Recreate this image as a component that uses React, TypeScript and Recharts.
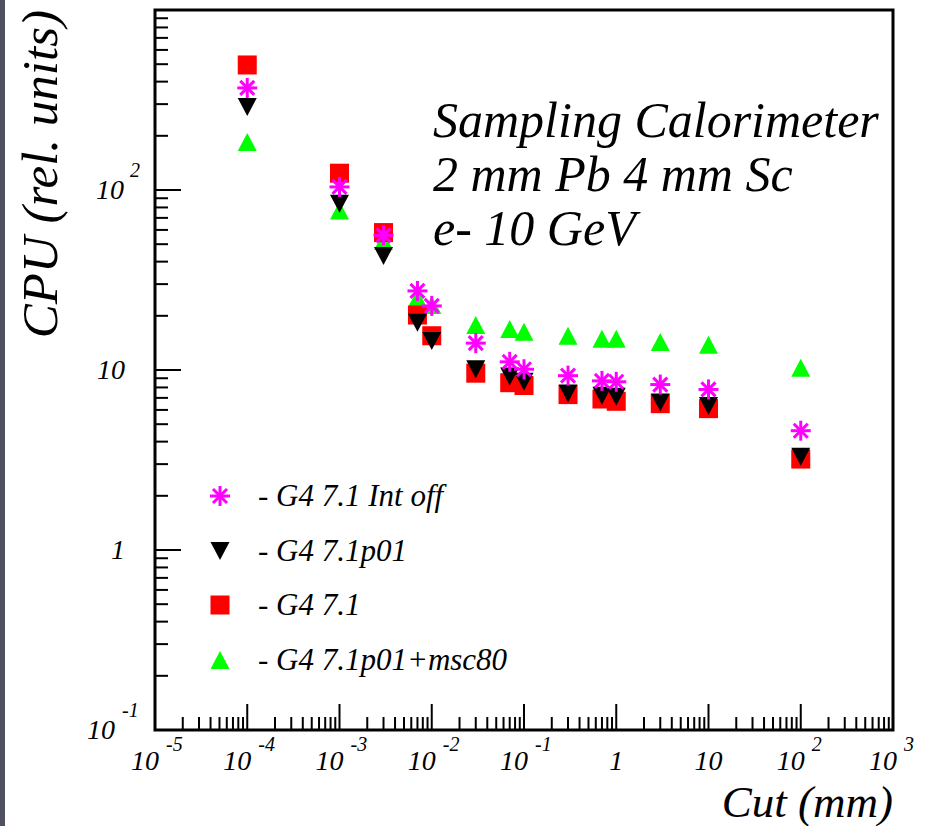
import React from "react";
import {
  ScatterChart,
  Scatter,
  XAxis,
  YAxis,
  Legend,
  ReferenceArea,
  Customized,
} from "recharts";

// cut values (mm) shared by all four series
const cutValues = [1e-4, 1e-3, 3e-3, 7e-3, 1e-2, 3e-2, 7e-2, 0.1, 0.3, 0.7, 1, 3, 10, 100];

// CPU (rel. units)
const cpuIntOff = [369, 104, 56, 27.5, 22.7, 14.1, 11.1, 10.1, 9.3, 8.7, 8.6, 8.3, 7.8, 4.6];
const cpuP01 = [289, 84, 43, 18.3, 14.5, 10.1, 9.2, 8.6, 7.4, 7.2, 7.1, 6.6, 6.3, 3.3];
const cpu71 = [495, 124, 58, 20.2, 15.5, 9.6, 8.5, 8.2, 7.3, 6.9, 6.7, 6.5, 6.1, 3.2];
const cpuMsc80 = [185, 77, 52, 25, 23, 17.8, 16.9, 16.3, 15.5, 14.9, 14.9, 14.3, 13.8, 10.3];

const xMajorTicks = [1e-5, 1e-4, 1e-3, 1e-2, 1e-1, 1, 10, 100, 1000];
const yMajorTicks = [0.1, 1, 10, 100, 1000];
const yLabelled = [0.1, 1, 10, 100];

const annotation = ["Sampling Calorimeter", "2 mm Pb 4 mm Sc", "e- 10 GeV"];

const FONT = "'Liberation Serif', 'Times New Roman', serif";
const W = 939;
const H = 826;
const PLOT_LEFT = 155;
const PLOT_TOP = 10;
const PLOT_RIGHT = 893;
const PLOT_BOTTOM = 730;
const X_LABEL_BASE = 770;

const withMinors = (majors: number[]) => {
  const out: number[] = [];
  majors.forEach((m, i) => {
    out.push(m);
    if (i < majors.length - 1) {
      for (let k = 2; k <= 9; k++) out.push(Number((m * k).toPrecision(6)));
    }
  });
  return out;
};

const xTicks = withMinors(xMajorTicks);
const yTicks = withMinors(yMajorTicks);

const isMajor = (v: number) => {
  const l = Math.log10(v);
  return Math.abs(l - Math.round(l)) < 1e-6;
};

const toPoints = (ys: number[]) => cutValues.map((x, i) => ({ x, y: ys[i] }));

const Asterisk = ({ cx, cy, color }: any) => {
  const r = 10;
  const d = 7;
  return (
    <g stroke={color} strokeWidth={3}>
      <line x1={cx} y1={cy - r} x2={cx} y2={cy + r} />
      <line x1={cx - r} y1={cy} x2={cx + r} y2={cy} />
      <line x1={cx - d} y1={cy - d} x2={cx + d} y2={cy + d} />
      <line x1={cx - d} y1={cy + d} x2={cx + d} y2={cy - d} />
    </g>
  );
};

const Square = ({ cx, cy, color }: any) => (
  <rect x={cx - 9.5} y={cy - 9.5} width={19} height={19} fill={color} />
);

const TriDown = ({ cx, cy, color }: any) => (
  <polygon
    points={`${cx - 9.5},${cy - 9} ${cx + 9.5},${cy - 9} ${cx},${cy + 9}`}
    fill={color}
  />
);

const TriUp = ({ cx, cy, color }: any) => (
  <polygon
    points={`${cx - 9.5},${cy + 9} ${cx + 9.5},${cy + 9} ${cx},${cy - 9}`}
    fill={color}
  />
);

const series = [
  { name: "- G4 7.1 Int off", color: "#ff00ff", data: cpuIntOff, Marker: Asterisk },
  { name: "- G4 7.1p01", color: "#000000", data: cpuP01, Marker: TriDown },
  { name: "- G4 7.1", color: "#ff0000", data: cpu71, Marker: Square },
  { name: "- G4 7.1p01+msc80", color: "#00ff00", data: cpuMsc80, Marker: TriUp },
];

// drawing order: green first, then red, black, magenta on top
const drawOrder = [3, 2, 1, 0];

const expOf = (v: number) => Math.round(Math.log10(v));

const XTick = ({ x, payload }: any) => {
  const v = payload.value;
  const major = isMajor(v);
  const e = expOf(v);
  return (
    <g>
      <line
        x1={x}
        x2={x}
        y1={PLOT_BOTTOM}
        y2={PLOT_BOTTOM - (major ? 26 : 13)}
        stroke="#000"
        strokeWidth={2}
      />
      {major && (e === 0 || e === 1) && (
        <text x={x} y={X_LABEL_BASE} textAnchor="middle" fontFamily={FONT} fontStyle="italic" fontSize={28}>
          {e === 0 ? "1" : "10"}
        </text>
      )}
      {major && e !== 0 && e !== 1 && (
        <g fontFamily={FONT} fontStyle="italic">
          <text x={x + 4} y={X_LABEL_BASE} textAnchor="end" fontSize={28}>
            10
          </text>
          <text x={x + 11} y={X_LABEL_BASE - 19} textAnchor="start" fontSize={20}>
            {String(e)}
          </text>
        </g>
      )}
    </g>
  );
};

const YTick = ({ y, payload }: any) => {
  const v = payload.value;
  const major = isMajor(v);
  const e = expOf(v);
  const labelled = major && yLabelled.some((t) => Math.abs(t - v) / t < 1e-6);
  return (
    <g>
      <line
        x1={PLOT_LEFT}
        x2={PLOT_LEFT + (major ? 26 : 13)}
        y1={y}
        y2={y}
        stroke="#000"
        strokeWidth={2}
      />
      {labelled && (e === 0 || e === 1) && (
        <text x={125} y={y + 9} textAnchor="end" fontFamily={FONT} fontStyle="italic" fontSize={28}>
          {e === 0 ? "1" : "10"}
        </text>
      )}
      {labelled && e !== 0 && e !== 1 && (
        <g fontFamily={FONT} fontStyle="italic">
          <text x={e < 0 ? 115 : 124} y={y + 9} textAnchor="end" fontSize={28}>
            10
          </text>
          <text x={e < 0 ? 122 : 130} y={y - 13} textAnchor="start" fontSize={20}>
            {String(e)}
          </text>
        </g>
      )}
    </g>
  );
};

const renderLegend = () => (
  <div style={{ fontFamily: FONT, fontStyle: "italic", fontSize: 31, color: "#000" }}>
    {series.map((s) => (
      <div key={s.name} style={{ display: "flex", alignItems: "center", height: 54.5 }}>
        <svg width={40} height={30} style={{ overflow: "visible" }}>
          <s.Marker cx={20} cy={15} color={s.color} />
        </svg>
        <span style={{ marginLeft: 18, whiteSpace: "nowrap" }}>{s.name}</span>
      </div>
    ))}
  </div>
);

const Texts = () => (
  <g fontFamily={FONT} fontStyle="italic" fill="#000">
    {annotation.map((line, i) => (
      <text key={line} x={433} y={137 + i * 54} fontSize={50}>
        {line}
      </text>
    ))}
    <text
      x={0}
      y={0}
      fontSize={51}
      textAnchor="end"
      transform={`translate(57, ${PLOT_TOP}) rotate(-90)`}
    >
      CPU (rel. units)
    </text>
    <text x={PLOT_RIGHT} y={817} fontSize={45} textAnchor="end">
      Cut (mm)
    </text>
  </g>
);

export default function App() {
  return (
    <div style={{ position: "absolute", left: 0, top: 0, width: W, height: H, background: "#fff" }}>
      <div style={{ position: "absolute", left: 0, top: 0, width: 5, height: H, background: "#4f5161" }} />
      <ScatterChart
        width={W}
        height={H}
        margin={{ top: PLOT_TOP, right: W - PLOT_RIGHT, bottom: 0, left: 0 }}
      >
        <XAxis
          type="number"
          dataKey="x"
          scale="log"
          domain={[1e-5, 1e3]}
          ticks={xTicks}
          interval={0}
          allowDataOverflow
          axisLine={false}
          tickLine={false}
          height={H - PLOT_BOTTOM}
          tick={<XTick />}
        />
        <YAxis
          type="number"
          dataKey="y"
          scale="log"
          domain={[0.1, 1000]}
          ticks={yTicks}
          interval={0}
          allowDataOverflow
          axisLine={false}
          tickLine={false}
          width={PLOT_LEFT}
          tick={<YTick />}
        />
        <ReferenceArea
          x1={1e-5}
          x2={1e3}
          y1={0.1}
          y2={1000}
          fill="none"
          stroke="#000"
          strokeWidth={3}
          ifOverflow="visible"
        />
        {drawOrder.map((i) => {
          const s = series[i];
          return (
            <Scatter
              key={s.name}
              name={s.name}
              data={toPoints(s.data)}
              isAnimationActive={false}
              shape={(p: any) => <s.Marker cx={p.cx} cy={p.cy} color={s.color} />}
            />
          );
        })}
        <Legend
          layout="vertical"
          align="center"
          verticalAlign="middle"
          wrapperStyle={{ left: 200, top: 469, width: 360 }}
          content={renderLegend}
        />
        <Customized component={<Texts />} />
      </ScatterChart>
    </div>
  );
}
